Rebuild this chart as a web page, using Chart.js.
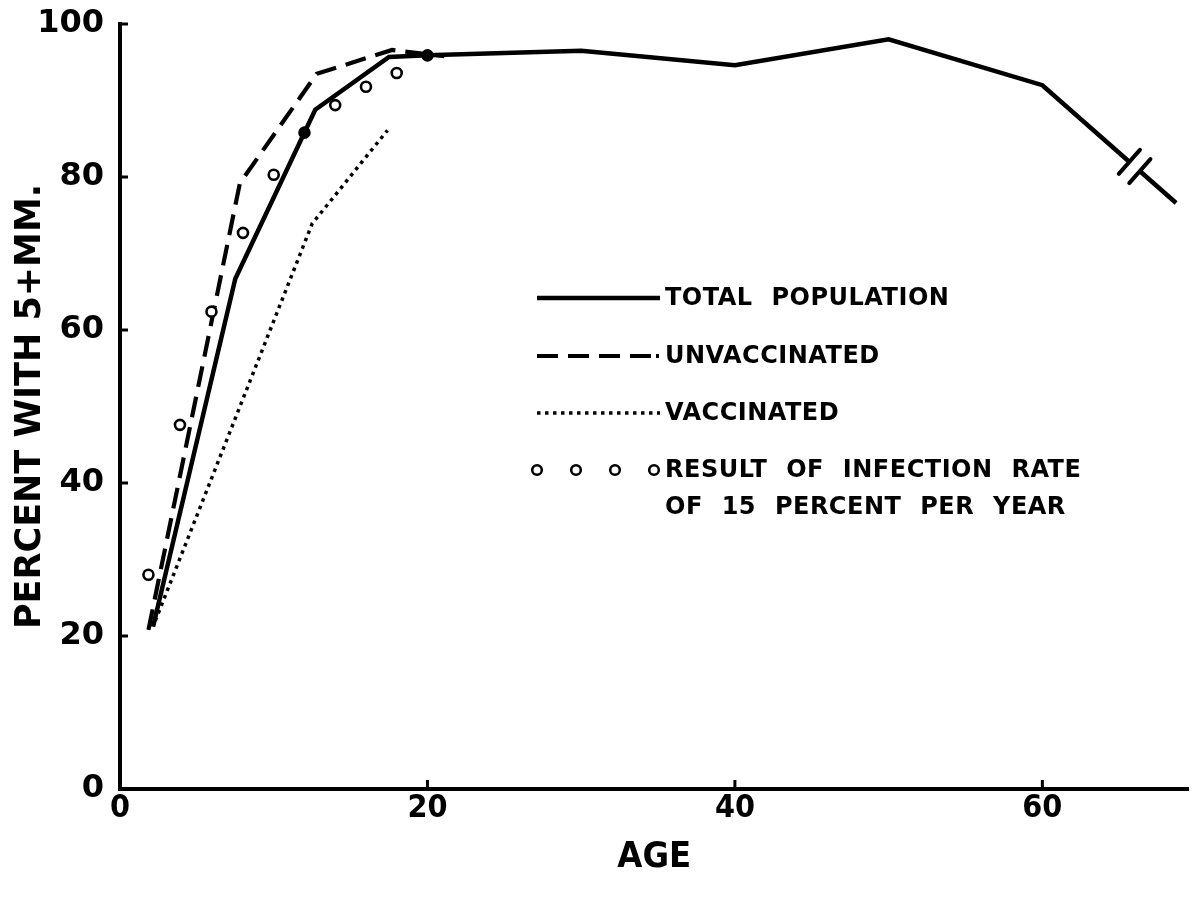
<!DOCTYPE html>
<html>
<head>
<meta charset="utf-8">
<script src="https://cdn.jsdelivr.net/npm/chart.js@4.4.1/dist/chart.umd.min.js"></script>
<style>
  html, body { margin: 0; padding: 0; background: #fff; }
  #wrap { width: 1196px; height: 901px; position: relative; }
</style>
</head>
<body>
<div id="wrap"><canvas id="c"></canvas></div>
<script>
// ---- data ----
const totalAge = [2.15, 7.5, 12.7, 17.5, 20, 30, 40, 50, 60, 68.7];
const totalPct = [21.2, 66.7, 88.8, 95.7, 95.9, 96.5, 94.6, 98.0, 92.0, 76.6];

const unvacAge = [1.85, 7.8, 12.8, 17.7, 21.1];
const unvacPct = [20.8, 79.2, 93.5, 96.6, 95.8];

const vacAge = [2.3, 12.5, 17.4];
const vacPct = [22.0, 73.9, 86.1];

const infectAge = [1.85, 3.9, 5.95, 8, 10, 12, 14, 16, 18, 20];
const infectPct = [28.0, 47.6, 62.4, 72.7, 80.3, 85.8, 89.4, 91.8, 93.6, 95.9];

const xTicks = [0, 20, 40, 60];
const yTicks = [0, 20, 40, 60, 80, 100];
const breakAge = 66.0;

const legendLabels = ["TOTAL POPULATION", "UNVACCINATED", "VACCINATED",
  "RESULT OF INFECTION RATE", "OF 15 PERCENT PER YEAR"];

const xTitle = "AGE";
const yTitle = "PERCENT WITH 5+MM.";

const pts = (xs, ys) => xs.map((x, i) => ({ x: x, y: ys[i] }));

const F = '"DejaVu Sans", sans-serif';
const FC = '"DejaVu Sans Condensed", "DejaVu Sans", sans-serif';

const extras = {
  id: 'extras',
  afterDatasetsDraw(chart) {
    const ctx = chart.ctx;
    const xs = chart.scales.x, ys = chart.scales.y;
    const ca = chart.chartArea;
    ctx.save();
    // inward tick marks
    ctx.strokeStyle = '#000';
    ctx.lineWidth = 3;
    yTicks.forEach(v => {
      if (v === 0) return;
      const py = ys.getPixelForValue(v);
      ctx.beginPath(); ctx.moveTo(ca.left, py); ctx.lineTo(ca.left + 8, py); ctx.stroke();
    });
    xTicks.forEach(v => {
      if (v === 0) return;
      const px = xs.getPixelForValue(v);
      ctx.beginPath(); ctx.moveTo(px, ca.bottom); ctx.lineTo(px, ca.bottom - 9); ctx.stroke();
    });

    // axis break on total population line
    const n = totalAge.length;
    const a0 = totalAge[n - 2], a1 = totalAge[n - 1];
    const p0 = totalPct[n - 2], p1 = totalPct[n - 1];
    const bp = p0 + (p1 - p0) * (breakAge - a0) / (a1 - a0);
    const bx = xs.getPixelForValue(breakAge), by = ys.getPixelForValue(bp);
    const dx = xs.getPixelForValue(a1) - xs.getPixelForValue(a0);
    const dy = ys.getPixelForValue(p1) - ys.getPixelForValue(p0);
    const len = Math.hypot(dx, dy);
    const ux = dx / len, uy = dy / len;      // along line
    const nx = uy, ny = -ux;                 // perpendicular
    ctx.strokeStyle = '#fff';
    ctx.lineWidth = 9;
    ctx.beginPath();
    ctx.moveTo(bx - ux * 6, by - uy * 6);
    ctx.lineTo(bx + ux * 6, by + uy * 6);
    ctx.stroke();
    ctx.strokeStyle = '#000';
    ctx.lineWidth = 4;
    ctx.lineCap = 'round';
    [-7, 7].forEach(o => {
      const cx = bx + ux * o, cy = by + uy * o;
      ctx.beginPath();
      ctx.moveTo(cx - nx * 16, cy - ny * 16);
      ctx.lineTo(cx + nx * 16, cy + ny * 16);
      ctx.stroke();
    });
    ctx.lineCap = 'butt';

    // legend
    const lx0 = 537, lx1 = 660, tx = 665;
    const rows = [298, 356, 413, 470, 507];
    ctx.strokeStyle = '#000';
    ctx.lineWidth = 4.5; ctx.setLineDash([]);
    ctx.beginPath(); ctx.moveTo(lx0, rows[0]); ctx.lineTo(lx1, rows[0]); ctx.stroke();
    ctx.lineWidth = 4.2; ctx.setLineDash([21, 10]);
    ctx.beginPath(); ctx.moveTo(lx0, rows[1]); ctx.lineTo(lx1 - 8, rows[1]); ctx.stroke();
    ctx.setLineDash([]);
    ctx.fillStyle = '#000';
    ctx.fillRect(lx1 - 4, rows[1] - 2, 3, 4);
    ctx.lineWidth = 3.5; ctx.setLineDash([3.5, 4.5]);
    ctx.beginPath(); ctx.moveTo(lx0, rows[2]); ctx.lineTo(lx1, rows[2]); ctx.stroke();
    ctx.setLineDash([]);
    ctx.lineWidth = 2.6;
    [537, 576, 615, 654].forEach(cx => {
      ctx.beginPath(); ctx.arc(cx, rows[3], 4.8, 0, Math.PI * 2);
      ctx.fillStyle = '#fff'; ctx.fill(); ctx.stroke();
    });
    ctx.fillStyle = '#000';
    ctx.font = 'bold 24px ' + F;
    if ('letterSpacing' in ctx) ctx.letterSpacing = '0.5px';
    if ('wordSpacing' in ctx) ctx.wordSpacing = '10px';
    ctx.textBaseline = 'middle';
    ctx.textAlign = 'left';
    legendLabels.forEach((t, i) => ctx.fillText(t, tx, rows[i] + 1));
    ctx.restore();
  }
};

new Chart(document.getElementById('c'), {
  type: 'scatter',
  data: {
    datasets: [
      {
        label: 'Result of infection rate of 15 percent per year',
        data: pts(infectAge, infectPct),
        showLine: false,
        pointRadius: 5,
        pointBorderWidth: 2.6,
        pointBorderColor: '#000',
        pointBackgroundColor: infectAge.map(a => (a === 12 || a === 20) ? '#000' : '#fff')
      },
      {
        label: 'Total population',
        data: pts(totalAge, totalPct),
        showLine: true,
        borderColor: '#000',
        borderWidth: 4.5,
        pointRadius: 0,
        tension: 0
      },
      {
        label: 'Unvaccinated',
        data: pts(unvacAge, unvacPct),
        showLine: true,
        borderColor: '#000',
        borderWidth: 4.2,
        borderDash: [21, 10],
        pointRadius: 0,
        tension: 0
      },
      {
        label: 'Vaccinated',
        data: pts(vacAge, vacPct),
        showLine: true,
        borderColor: '#000',
        borderWidth: 3.5,
        borderDash: [3.5, 4.5],
        pointRadius: 0,
        tension: 0
      }
    ]
  },
  options: {
    responsive: true,
    maintainAspectRatio: false,
    animation: false,
    layout: { padding: { left: 0, top: 24, right: 6, bottom: 0 } },
    plugins: { legend: { display: false }, tooltip: { enabled: false } },
    scales: {
      x: {
        type: 'linear',
        min: 0, max: 69.5,
        afterBuildTicks: s => { s.ticks = xTicks.map(v => ({ value: v })); },
        afterFit: s => { s.height = 112; s.paddingLeft = 0; s.paddingRight = 0; },
        grid: { display: false, drawTicks: false },
        border: { display: true, color: '#000', width: 4 },
        ticks: { color: '#000', font: { family: FC, size: 32, weight: 'bold' }, padding: 0, maxRotation: 0 },
        title: { display: true, text: xTitle, color: '#000',
                 font: { family: FC, size: 36, weight: 'bold' }, padding: { top: 0, bottom: 22 } }
      },
      y: {
        type: 'linear',
        min: 0, max: 100,
        afterBuildTicks: s => { s.ticks = yTicks.map(v => ({ value: v })); },
        afterFit: s => { s.width = 120; s.paddingTop = 0; s.paddingBottom = 0; },
        grid: { display: false, drawTicks: false },
        border: { display: true, color: '#000', width: 4 },
        ticks: { color: '#000', font: { family: F, size: 32, weight: 'bold' }, padding: 16 },
        title: { display: true, text: yTitle, color: '#000',
                 font: { family: F, size: 35, weight: 'bold' }, padding: { top: 10, bottom: 0 } }
      }
    }
  },
  plugins: [extras]
});
</script>
</body>
</html>
